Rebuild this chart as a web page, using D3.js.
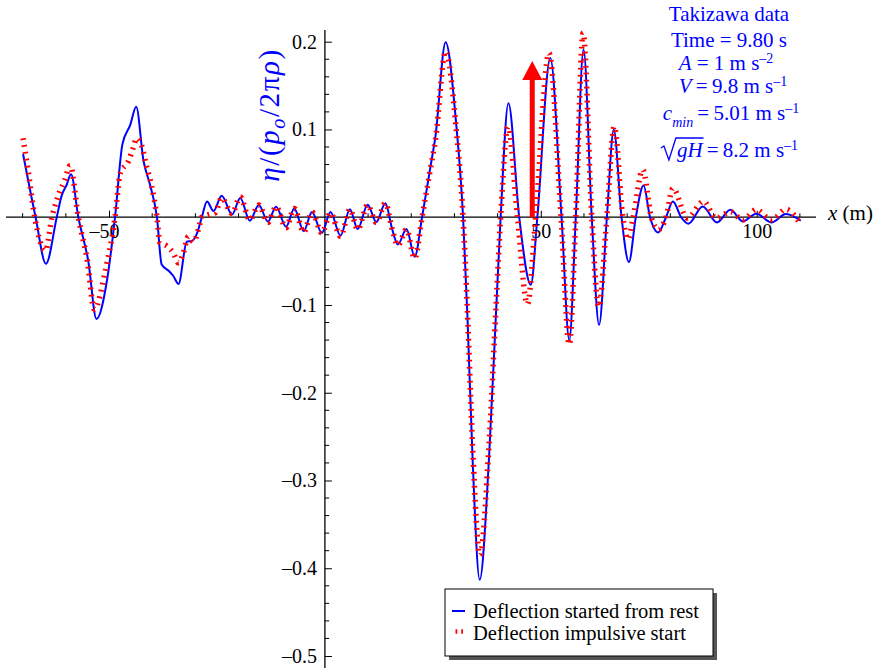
<!DOCTYPE html>
<html>
<head>
<meta charset="utf-8">
<script src="https://cdn.jsdelivr.net/npm/d3@7"></script>
<style>
  body { margin: 0; background: #fff; }
  text { font-family: "Liberation Serif", "Times New Roman", serif; white-space: pre; }
</style>
</head>
<body>
<svg id="chart" width="878" height="668"></svg>
<script>
// Deflection started from rest (x in m, eta normalised)
const restX = [-69.9, -67.0, -64.6, -62.1, -61.0, -59.8, -58.8, -57.1, -54.8, -52.9, -50.5, -48.6, -46.9, -45.1, -43.7,
  -42.0, -40.5, -38.9, -37.8, -36.2, -35.1, -33.9, -32.0, -30.8, -29.6, -28.5, -27.3, -25.8, -23.9, -21.5,
  -19.6, -17.4, -15.3, -13.2, -11.3, -9.0, -7.1, -4.9, -3.0, -0.7, 1.3, 3.6, 5.8, 7.6, 9.9,
  11.9, 14.0, 15.6, 16.9, 18.9, 20.8, 22.5, 24.5, 25.6, 27.96, 30.3, 32.0, 33.0, 34.2, 35.85,
  38.0, 39.6, 40.7, 42.5, 45.0, 47.7, 49.2, 52.2, 54.8, 56.6, 58.1, 59.9, 61.8, 63.5, 65.3,
  66.9, 68.7, 70.4, 72.0, 73.8, 75.3, 77.2, 79.0, 80.6, 82.5, 84.2, 87.5, 90.8, 93.9, 96.8,
  99.9, 103.4, 106.8, 110.2];
const restY = [0.072, 0.0, -0.053, 0.0, 0.024, 0.037, 0.049, 0.0, -0.050, -0.116, -0.073, 0.0, 0.083, 0.105, 0.126,
  0.064, 0.037, 0.0, -0.054, -0.061, -0.067, -0.076, -0.028, -0.027, -0.018, 0.0, 0.018, 0.007, 0.0245, 0.003,
  0.022, -0.004, 0.014, -0.005, 0.012, -0.011, 0.010, -0.016, 0.006, -0.018, 0.006, -0.021, 0.009, -0.0135, 0.0143,
  -0.0055, 0.016, -0.014, -0.031, -0.0135, -0.045, 0.0, 0.059, 0.092, 0.1995, 0.112, 0.0, -0.112, -0.275, -0.413,
  -0.275, -0.112, 0.0, 0.130, 0.0, -0.077, 0.0, 0.1815, 0.0, -0.140, 0.0, 0.191, 0.0, -0.1226, 0.0,
  0.0998, 0.0, -0.051, 0.0, 0.036, 0.0, -0.0173, 0.0, 0.018, 0.0, -0.0074, 0.0123, -0.006, 0.0085, -0.0048,
  0.004, -0.006, 0.0036, -0.004];

// Deflection with an impulsive start
const impulseX = [-69.9, -68.7, -67.2, -64.7, -63.2, -61.8, -60.2, -59.0, -57.1, -55.0, -53.4, -50.8, -48.6, -47.4, -45.5,
  -44.4, -43.6, -42.4, -41.3, -40.1, -38.9, -38.2, -36.6, -35.1, -33.9, -32.8, -31.6, -30.4, -29.3, -28.5,
  -27.0, -25.4, -23.9, -21.5, -19.6, -17.4, -15.3, -13.2, -11.3, -9.0, -7.1, -4.9, -3.0, -0.7, 1.3,
  3.6, 5.8, 7.6, 9.9, 11.9, 14.0, 15.6, 16.9, 18.9, 20.8, 22.5, 24.5, 25.6, 27.96, 30.3,
  32.0, 33.0, 34.2, 35.9, 38.0, 39.6, 40.7, 42.4, 44.6, 46.9, 48.8, 51.9, 54.7, 56.6, 58.1,
  59.8, 61.8, 63.4, 65.3, 67.0, 69.0, 70.2, 71.4, 73.6, 75.6, 77.2, 79.0, 80.6, 83.9, 87.7,
  90.6, 93.9, 96.8, 99.9, 103.4, 106.8, 110.2];
const impulseY = [0.090, 0.052, 0.0, -0.038, 0.0, 0.024, 0.043, 0.059, 0.0, -0.050, -0.105, -0.060, 0.0, 0.050, 0.064,
  0.079, 0.090, 0.081, 0.058, 0.035, 0.0, -0.029, -0.033, -0.041, -0.052, -0.041, -0.022, -0.028, -0.014, 0.0,
  0.003, 0.005, 0.022, 0.004, 0.023, -0.003, 0.014, -0.006, 0.012, -0.012, 0.010, -0.017, 0.006, -0.018, 0.005,
  -0.022, 0.009, -0.014, 0.014, -0.006, 0.016, -0.014, -0.032, -0.014, -0.047, 0.0, 0.057, 0.088, 0.189, 0.106,
  0.0, -0.105, -0.260, -0.385, -0.260, -0.105, 0.0, 0.103, 0.0, -0.099, 0.0, 0.187, 0.0, -0.145, 0.0,
  0.210, 0.0, -0.102, 0.0, 0.1035, 0.0, -0.025, 0.0, 0.054, 0.0, -0.014, 0.0, 0.033, -0.001, 0.018,
  -0.001, 0.006, -0.003, 0.0085, -0.003, 0.009, -0.0086];

// Load position at t = 9.80 s (x = A t^2 / 2) and arrow height
const loadX = [48.02];
const loadArrowTop = [0.178];

const xMajorTicks = [-50, 50, 100];
const xMinorTicks = [-70, -60, -40, -30, -20, -10, 10, 20, 30, 40, 60, 70, 80, 90, 110];
const yMajorTicks = [-0.5, -0.4, -0.3, -0.2, -0.1, 0.1, 0.2];
const yMinorTicks = [-0.48, -0.46, -0.44, -0.42, -0.38, -0.36, -0.34, -0.32, -0.28, -0.26, -0.24, -0.22,
  -0.18, -0.16, -0.14, -0.12, -0.08, -0.06, -0.04, -0.02, 0.02, 0.04, 0.06, 0.08, 0.12, 0.14, 0.16, 0.18];

const legendLabels = ["Deflection started from rest", "Deflection impulsive start"];

const BLUE = "#0000ff", RED = "#ff0000";
const svg = d3.select("#chart");

const x = d3.scaleLinear().domain([-50, 100]).range([109, 756.7]);
const y = d3.scaleLinear().domain([-0.5, 0.2]).range([656, 41.7]);
const x0 = x(0), y0 = y(0);

// numbers use a long dash for the minus sign
const dash = s => s.replace(/^[-−]/, "–");
const fmtX = d => dash(d3.format("d")(d));
const fmtY = d => dash(d3.format(".1f")(d));

// axes lines
svg.append("line").attr("x1", 6).attr("x2", 816).attr("y1", y0).attr("y2", y0)
  .attr("stroke", "#000").attr("stroke-width", 1.3);
svg.append("line").attr("x1", x0).attr("x2", x0).attr("y1", 30).attr("y2", 668)
  .attr("stroke", "#000").attr("stroke-width", 1.3);

// x axis ticks (pointing up, labels below)
const gx = svg.append("g").attr("transform", `translate(0,${y0})`)
  .call(d3.axisBottom(x).tickValues(xMajorTicks).tickSize(-6.5).tickPadding(7).tickFormat(fmtX));
gx.select(".domain").remove();
gx.append("g").selectAll("line").data(xMinorTicks).join("line")
  .attr("x1", d => x(d)).attr("x2", d => x(d)).attr("y1", 0).attr("y2", -4).attr("stroke", "#000");
gx.selectAll(".tick line").attr("stroke-width", 1);
gx.selectAll(".tick text").attr("font-size", 20).attr("font-family", "Liberation Serif").attr("fill", "#000")
  .each(function(d) {
    if (d < 0) {
      // digits stay centred on the tick, the minus sign hangs to the left
      const tmp = svg.append("text").attr("font-size", 20).text(fmtX(Math.abs(d)));
      const w = tmp.node().getComputedTextLength();
      tmp.remove();
      d3.select(this).attr("text-anchor", "end").attr("x", w / 2);
    }
  });

// y axis ticks (pointing right, labels left)
const gy = svg.append("g").attr("transform", `translate(${x0},0)`)
  .call(d3.axisLeft(y).tickValues(yMajorTicks).tickSize(-7).tickPadding(8).tickFormat(fmtY));
gy.select(".domain").remove();
gy.append("g").selectAll("line").data(yMinorTicks).join("line")
  .attr("y1", d => y(d)).attr("y2", d => y(d)).attr("x1", 0).attr("x2", 4.3).attr("stroke", "#000");
gy.selectAll(".tick text").attr("font-size", 20).attr("font-family", "Liberation Serif").attr("fill", "#000");

// axis labels
const xl = svg.append("text").attr("x", 828).attr("y", 220).attr("font-size", 21).attr("fill", "#000");
xl.append("tspan").attr("font-style", "italic").text("x");
xl.append("tspan").text(" (m)");

const yl = svg.append("text").attr("transform", "translate(279,115) rotate(-90)")
  .attr("text-anchor", "middle").attr("font-size", 29).attr("letter-spacing", 1.6).attr("fill", BLUE);
yl.append("tspan").attr("font-style", "italic").text("η");
yl.append("tspan").text("/(");
yl.append("tspan").attr("font-style", "italic").text("p");
yl.append("tspan").attr("font-style", "italic").attr("font-size", 20).attr("dy", 6).text("o");
yl.append("tspan").attr("dy", -6).text("/2π");
yl.append("tspan").attr("font-style", "italic").text("ρ");
yl.append("tspan").text(")");

// curves
const line = d3.line().x(d => x(d[0])).y(d => y(d[1])).curve(d3.curveMonotoneX);
const restPts = restX.map((v, i) => [v, restY[i]]);
const impPts = impulseX.map((v, i) => [v, impulseY[i]]);

svg.append("path").attr("d", line(restPts)).attr("fill", "none")
  .attr("stroke", BLUE).attr("stroke-width", 2);
svg.append("path").attr("d", line(impPts)).attr("fill", "none")
  .attr("stroke", RED).attr("stroke-width", 5.5).attr("stroke-dasharray", "1.8,5.2");

// load arrow
const ax = x(loadX[0]), aTop = y(loadArrowTop[0]);
const headH = 19, headW = 20;
svg.append("line").attr("x1", ax).attr("x2", ax).attr("y1", y0).attr("y2", aTop + headH - 1)
  .attr("stroke", RED).attr("stroke-width", 5);
svg.append("path")
  .attr("d", `M${ax},${aTop} L${ax + headW / 2},${aTop + headH} L${ax - headW / 2},${aTop + headH} Z`)
  .attr("fill", RED);

// parameter block
const info = svg.append("g").attr("fill", BLUE);
function row(runs, cx, base) {
  const g = info.append("g");
  let cursor = 0;
  const placed = [];
  runs.forEach(r => {
    if (r.rad) { placed.push({ r, x: cursor, w: 17 }); cursor += 17; return; }
    const sz = r.sup || r.sub ? 14 : 21;
    const t = g.append("text").attr("font-size", sz).attr("font-style", r.it ? "italic" : "normal")
      .attr("y", base + (r.sup ? -7 : r.sub ? 6.5 : 0)).text(r.t);
    const w = t.node().getComputedTextLength();
    placed.push({ r, x: cursor, w, t });
    cursor += w;
  });
  const start = cx - cursor / 2;
  placed.forEach(p => { if (p.t) p.t.attr("x", start + p.x); });
  const rad = placed.find(p => p.r.rad);
  if (rad) {
    const over = placed.find(p => p.r.over);
    const rx = start + rad.x;
    const top = base - 19;
    svg.append("path")
      .attr("d", `M${rx + 1},${base - 9} L${rx + 4},${base - 11} L${rx + 9},${base + 3} L${rx + 16},${top} L${start + over.x + over.w + 1},${top}`)
      .attr("fill", "none").attr("stroke", BLUE).attr("stroke-width", 1.3);
  }
}
const cx = 729;
const sp = "\u00a0";
row([{ t: "Takizawa data" }], cx, 21);
row([{ t: "Time = 9.80 s" }], cx, 47);
row([{ t: "A", it: 1 }, { t: sp + "=" + sp + "1 m s" }, { t: "–2", sup: 1 }], cx - 3, 70);
row([{ t: "V", it: 1 }, { t: "\u2009=\u20099.8 m s" }, { t: "–1", sup: 1 }], cx + 4, 93);
row([{ t: "c", it: 1 }, { t: "min", it: 1, sub: 1 }, { t: "\u2009=\u20095.01 m s" }, { t: "–1", sup: 1 }], cx + 2, 120);
row([{ rad: 1 }, { t: "gH", it: 1, over: 1 }, { t: "\u2009=\u20098.2 m s" }, { t: "–1", sup: 1 }], cx, 157);

// legend
const lg = svg.append("g");
lg.append("rect").attr("x", 449).attr("y", 593).attr("width", 268).attr("height", 67).attr("fill", "#555");
lg.append("rect").attr("x", 445).attr("y", 589).attr("width", 268).attr("height", 67)
  .attr("fill", "#fff").attr("stroke", "#000").attr("stroke-width", 1);
lg.append("line").attr("x1", 452).attr("x2", 465).attr("y1", 611).attr("y2", 611)
  .attr("stroke", BLUE).attr("stroke-width", 2);
lg.append("line").attr("x1", 455.5).attr("x2", 463).attr("y1", 631.5).attr("y2", 631.5)
  .attr("stroke", RED).attr("stroke-width", 4.5).attr("stroke-dasharray", "1.8,4");
lg.selectAll("text.lab").data(legendLabels).join("text").attr("class", "lab")
  .attr("x", 473).attr("y", (d, i) => 618 + i * 22).attr("font-size", 20.5).attr("fill", "#000").text(d => d);
</script>
</body>
</html>
